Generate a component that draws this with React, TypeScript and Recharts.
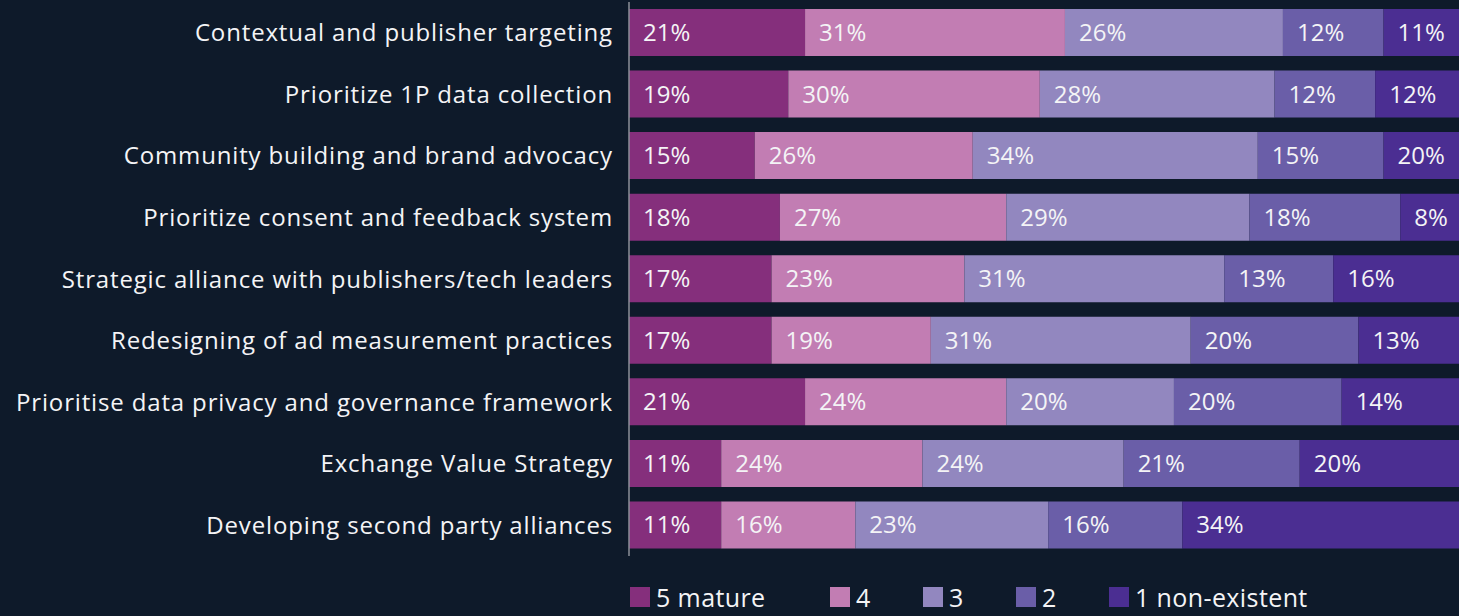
import React from 'react';
import { BarChart, Bar, XAxis, YAxis, Legend, LabelList } from 'recharts';

const categories = [
  'Contextual and publisher targeting',
  'Prioritize 1P data collection',
  'Community building and brand advocacy',
  'Prioritize consent and feedback system',
  'Strategic alliance with publishers/tech leaders',
  'Redesigning of ad measurement practices',
  'Prioritise data privacy and governance framework',
  'Exchange Value Strategy',
  'Developing second party alliances',
];

const mature5 = [21, 19, 15, 18, 17, 17, 21, 11, 11];
const level4 = [31, 30, 26, 27, 23, 19, 24, 24, 16];
const level3 = [26, 28, 34, 29, 31, 31, 20, 24, 23];
const level2 = [12, 12, 15, 18, 13, 20, 20, 21, 16];
const nonExistent1 = [11, 12, 20, 8, 16, 13, 14, 20, 34];

const seriesNames = ['5 mature', '4', '3', '2', '1 non-existent'];
const seriesKeys = ['s5', 's4', 's3', 's2', 's1'];
const seriesColors = ['#852f7c', '#c27db3', '#9287bf', '#6a5ea8', '#4b2e92'];

const data = categories.map((name, i) => ({
  name,
  s5: mature5[i],
  s4: level4[i],
  s3: level3[i],
  s2: level2[i],
  s1: nonExistent1[i],
}));

const FONT = '"Open Sans", sans-serif';
const TEXT = '#f4f4f6';

const renderLegend = () => (
  <div style={{ display: 'flex', paddingLeft: 630, paddingTop: 26, paddingBottom: 4, height: 30, alignItems: 'center', fontFamily: FONT }}>
    {seriesNames.map((n, i) => (
      <div
        key={n}
        style={{ display: 'flex', alignItems: 'center', whiteSpace: 'nowrap', width: i === 0 ? 200 : i === seriesNames.length - 1 ? 'auto' : 93 }}
      >
        <span style={{ display: 'inline-block', width: 20, height: 20, background: seriesColors[i], marginRight: 6 }} />
        <span style={{ color: TEXT, fontSize: 25, lineHeight: '30px', letterSpacing: 0.4 }}>{n}</span>
      </div>
    ))}
  </div>
);

export default function App() {
  return (
    <div style={{ position: 'absolute', left: 0, top: 0, width: 1459, height: 616, background: '#0e1a2a', overflow: 'hidden' }}>
      <BarChart
        width={1459}
        height={616}
        data={data}
        layout="vertical"
        margin={{ top: 2, right: 0, bottom: 0, left: 0 }}
        barSize={47}
      >
        <XAxis type="number" domain={[0, 99]} allowDataOverflow hide />
        <YAxis
          type="category"
          dataKey="name"
          width={629}
          tickLine={false}
          axisLine={{ stroke: '#8c9099', strokeWidth: 1.5 }}
          tickMargin={10}
          tick={{ fill: TEXT, fontSize: 24, fontFamily: FONT, letterSpacing: 0.85 }}
          interval={0}
        />
        <Legend verticalAlign="bottom" align="left" content={renderLegend} />
        {seriesKeys.map((k, i) => (
          <Bar key={k} dataKey={k} name={seriesNames[i]} stackId="a" fill={seriesColors[i]} isAnimationActive={false}>
            <LabelList
              dataKey={k}
              position="insideLeft"
              offset={14}
              formatter={(v: number) => `${v}%`}
              style={{ fill: TEXT, fontSize: 24, fontFamily: FONT }}
            />
          </Bar>
        ))}
      </BarChart>
    </div>
  );
}
